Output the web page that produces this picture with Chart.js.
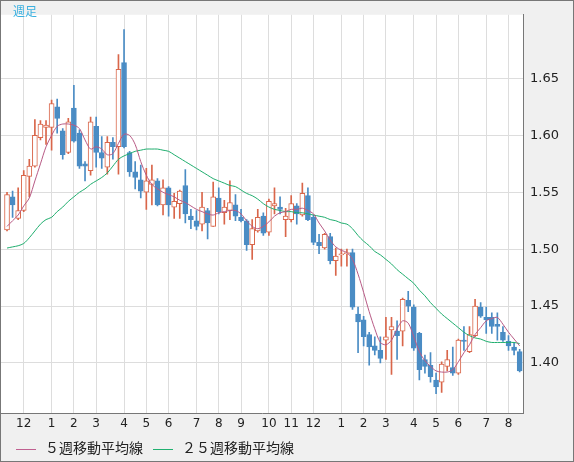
<!DOCTYPE html>
<html>
<head>
<meta charset="utf-8">
<script src="https://cdn.jsdelivr.net/npm/chart.js@4/dist/chart.umd.min.js"></script>
<style>
  html, body { margin: 0; padding: 0; }
  body { width: 574px; height: 462px; background: #f0f0f0; position: relative; overflow: hidden; font-family: "Noto Sans CJK JP", "DejaVu Sans", sans-serif; }
  #frame { position: absolute; left: 0; top: 0; width: 572px; height: 460px; border: 1px solid #777; }
  #wrap { position: absolute; left: 0; top: 0; width: 574px; height: 432px; }
  #title { position: absolute; left: 13px; top: 2px; font-size: 12px; color: #3ab0e0; }
  .leg { position: absolute; top: 438px; font-size: 14px; color: #222; line-height: 18px; }
  .leg span { display: inline-block; width: 20px; height: 1px; vertical-align: middle; margin-right: 9px; }
</style>
</head>
<body>
<div id="wrap"><canvas id="weekly_chart" width="574" height="432"></canvas></div>
<div id="frame"></div>
<div id="title">週足</div>
<div class="leg" style="left:16px"><span style="background:#c06090"></span>５週移動平均線</div>
<div class="leg" style="left:153px"><span style="background:#20b070"></span>２５週移動平均線</div>
<script>
'use strict';

const opens  = [1.517,1.546,1.527,1.534,1.564,1.573,1.598,1.607,1.607,1.625,1.604,1.585,1.624,1.602,1.575,1.569,1.608,1.585,1.572,1.594,1.590,1.664,1.585,1.568,1.561,1.550,1.557,1.560,1.539,1.554,1.537,1.540,1.556,1.529,1.525,1.522,1.534,1.520,1.545,1.532,1.534,1.539,1.528,1.525,1.504,1.516,1.529,1.515,1.538,1.537,1.526,1.526,1.538,1.530,1.547,1.528,1.506,1.501,1.511,1.490,1.495,1.496,1.497,1.443,1.438,1.425,1.415,1.411,1.420,1.429,1.428,1.428,1.455,1.449,1.426,1.403,1.398,1.385,1.383,1.397,1.396,1.391,1.420,1.410,1.424,1.449,1.440,1.440,1.434,1.427,1.419,1.414,1.410];
const closes = [1.548,1.539,1.534,1.565,1.573,1.600,1.610,1.609,1.628,1.615,1.583,1.612,1.595,1.573,1.573,1.612,1.585,1.580,1.594,1.590,1.658,1.590,1.568,1.563,1.551,1.560,1.561,1.539,1.554,1.539,1.542,1.551,1.531,1.526,1.520,1.537,1.523,1.546,1.533,1.537,1.541,1.529,1.525,1.504,1.518,1.528,1.514,1.542,1.540,1.535,1.529,1.540,1.531,1.549,1.526,1.506,1.503,1.513,1.490,1.494,1.496,1.497,1.449,1.436,1.423,1.414,1.411,1.404,1.423,1.432,1.424,1.456,1.450,1.413,1.394,1.397,1.388,1.379,1.399,1.403,1.391,1.420,1.419,1.425,1.450,1.441,1.438,1.432,1.432,1.420,1.415,1.411,1.393];
const highs  = [1.550,1.551,1.554,1.569,1.579,1.614,1.613,1.613,1.631,1.632,1.606,1.615,1.644,1.605,1.577,1.616,1.616,1.599,1.599,1.598,1.671,1.693,1.586,1.577,1.574,1.571,1.574,1.562,1.561,1.555,1.549,1.552,1.570,1.535,1.534,1.550,1.536,1.559,1.554,1.543,1.560,1.548,1.535,1.526,1.526,1.535,1.532,1.544,1.554,1.546,1.536,1.547,1.540,1.558,1.554,1.530,1.513,1.514,1.514,1.501,1.500,1.500,1.500,1.449,1.441,1.427,1.423,1.423,1.440,1.440,1.437,1.457,1.463,1.451,1.427,1.407,1.409,1.391,1.401,1.411,1.414,1.421,1.432,1.432,1.456,1.453,1.449,1.444,1.444,1.432,1.424,1.418,1.412];
const lows   = [1.516,1.528,1.526,1.533,1.546,1.572,1.596,1.592,1.587,1.602,1.579,1.584,1.594,1.571,1.560,1.565,1.572,1.571,1.566,1.579,1.566,1.589,1.564,1.553,1.545,1.535,1.539,1.538,1.530,1.529,1.527,1.527,1.523,1.518,1.517,1.516,1.509,1.520,1.531,1.522,1.526,1.525,1.524,1.499,1.491,1.515,1.512,1.512,1.531,1.531,1.511,1.524,1.522,1.529,1.525,1.504,1.496,1.500,1.487,1.477,1.485,1.485,1.447,1.409,1.415,1.398,1.407,1.400,1.403,1.390,1.403,1.415,1.445,1.411,1.385,1.391,1.383,1.373,1.374,1.393,1.389,1.390,1.411,1.409,1.423,1.440,1.426,1.426,1.420,1.419,1.411,1.407,1.392];

const ma5  = [1.520,1.525,1.530,1.538,1.545,1.560,1.575,1.590,1.600,1.608,1.610,1.610,1.609,1.606,1.596,1.588,1.590,1.588,1.583,1.584,1.593,1.601,1.600,1.592,1.577,1.565,1.557,1.553,1.550,1.548,1.546,1.543,1.541,1.538,1.535,1.533,1.531,1.530,1.532,1.533,1.534,1.534,1.531,1.525,1.520,1.518,1.520,1.524,1.529,1.532,1.533,1.535,1.535,1.536,1.534,1.531,1.523,1.516,1.508,1.502,1.499,1.497,1.491,1.478,1.462,1.445,1.430,1.418,1.416,1.420,1.430,1.437,1.435,1.423,1.410,1.402,1.397,1.393,1.392,1.392,1.394,1.401,1.409,1.416,1.425,1.431,1.437,1.439,1.440,1.434,1.427,1.421,1.415];
const ma25 = [1.501,1.502,1.503,1.505,1.510,1.516,1.522,1.526,1.528,1.533,1.537,1.542,1.546,1.550,1.553,1.557,1.560,1.563,1.567,1.573,1.579,1.582,1.584,1.586,1.587,1.588,1.588,1.588,1.587,1.586,1.583,1.580,1.577,1.574,1.571,1.568,1.565,1.562,1.560,1.558,1.556,1.555,1.552,1.549,1.547,1.544,1.540,1.537,1.535,1.534,1.533,1.533,1.532,1.532,1.531,1.530,1.529,1.528,1.526,1.525,1.523,1.522,1.518,1.512,1.507,1.503,1.498,1.495,1.491,1.487,1.482,1.478,1.474,1.470,1.464,1.459,1.453,1.448,1.443,1.439,1.435,1.431,1.427,1.424,1.422,1.421,1.419,1.418,1.418,1.418,1.418,1.418,1.417];

const month_weeks  = [3, 8, 12, 16, 21, 25, 29, 34, 38, 42, 47, 51, 55, 60, 64, 68, 73, 77, 81, 86, 90];
const month_labels = ['12','1','2','3','4','5','6','7','8','9','10','11','12','1','2','3','4','5','6','7','8'];
const price_ticks  = [1.40, 1.45, 1.50, 1.55, 1.60, 1.65];

const UP = '#d9664a';
const DOWN = '#4a8cc4';

var is_up = opens.map(function (o, i) { return closes[i] >= o; });
var wick_data = highs.map(function (h, i) { return { x: i, y: [lows[i], h] }; });
var body_data = opens.map(function (o, i) {
    var lo = Math.min(o, closes[i]), hi = Math.max(o, closes[i]);
    if (hi - lo < 0.001) { hi = lo + 0.001; }
    return { x: i, y: [lo, hi] };
});

var ctx = document.getElementById('weekly_chart');

new Chart(ctx, {
    data: {
        datasets: [{
            type: 'line',
            label: '５週移動平均線',
            data: ma5.map(function (v, i) { return { x: i, y: v }; }),
            borderColor: '#b85a85',
            borderWidth: 1,
            pointRadius: 0,
            tension: 0.3,
            order: 0
        }, {
            type: 'line',
            label: '２５週移動平均線',
            data: ma25.map(function (v, i) { return { x: i, y: v }; }),
            borderColor: '#1fae6e',
            borderWidth: 1,
            pointRadius: 0,
            tension: 0.3,
            order: 1
        }, {
            type: 'bar',
            data: body_data,
            grouped: false,
            barThickness: 5,
            borderWidth: 1,
            borderSkipped: false,
            backgroundColor: function (c) { return is_up[c.dataIndex] ? '#ffffff' : DOWN; },
            borderColor: function (c) { return is_up[c.dataIndex] ? UP : DOWN; },
            order: 2
        }, {
            type: 'bar',
            data: wick_data,
            grouped: false,
            barThickness: 1,
            borderWidth: 0,
            backgroundColor: function (c) { return is_up[c.dataIndex] ? UP : DOWN; },
            order: 3
        }]
    },
    options: {
        animation: false,
        responsive: false,
        layout: { padding: { left: 1, top: 1, right: 0, bottom: 0 } },
        plugins: { legend: { display: false }, tooltip: { enabled: false } },
        scales: {
            x: {
                type: 'linear',
                offset: false,
                min: -1.08,
                max: 92.6,
                afterBuildTicks: function (axis) {
                    axis.ticks = month_weeks.map(function (w) { return { value: w }; });
                },
                afterFit: function (axis) { axis.height = 19; },
                ticks: {
                    autoSkip: false,
                    maxRotation: 0,
                    padding: 4,
                    color: '#222',
                    font: { family: 'DejaVu Sans', size: 12 },
                    callback: function (v) {
                        var k = month_weeks.indexOf(v);
                        return k >= 0 ? month_labels[k] : '';
                    }
                },
                grid: { color: '#dddddd', drawTicks: false, offset: false },
                border: { color: '#777777' }
            },
            y: {
                type: 'linear',
                position: 'right',
                offset: false,
                min: 1.356,
                max: 1.706,
                afterBuildTicks: function (axis) {
                    axis.ticks = price_ticks.map(function (p) { return { value: p }; });
                },
                afterFit: function (axis) { axis.width = 51; },
                ticks: {
                    padding: 7,
                    color: '#222',
                    font: { family: 'DejaVu Sans', size: 13 },
                    callback: function (v) { return v.toFixed(2); }
                },
                grid: { color: '#dddddd', drawTicks: false },
                border: { color: '#777777' }
            }
        }
    },
    plugins: [{
        id: 'plot_bg',
        beforeDraw: function (chart) {
            var a = chart.chartArea, c = chart.ctx;
            c.save();
            c.fillStyle = '#ffffff';
            c.fillRect(a.left, a.top, a.right - a.left, a.bottom - a.top);
            c.restore();
        }
    }]
});
</script>
</body>
</html>
